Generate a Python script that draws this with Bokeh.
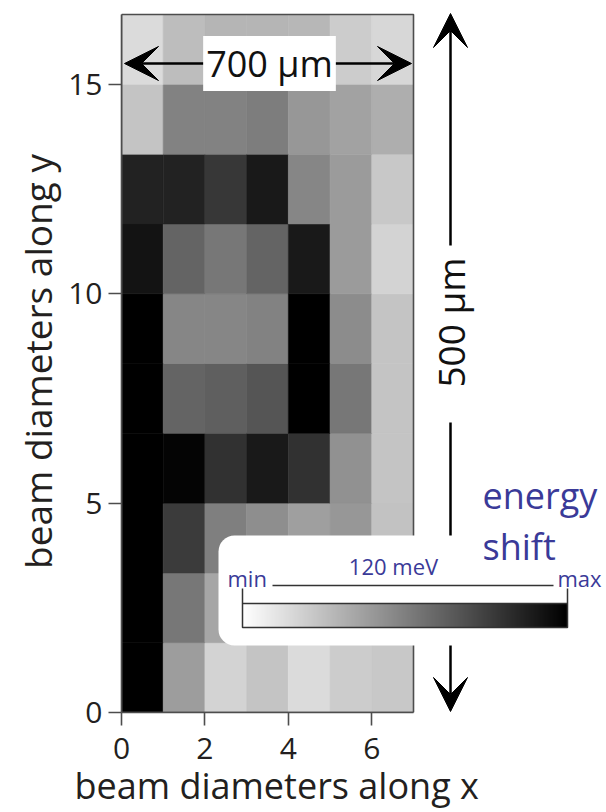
import math
from bokeh.plotting import figure
from bokeh.models import (ColumnDataSource, LinearColorMapper, ColorBar, FixedTicker,
                          Arrow, VeeHead, Label, BoxAnnotation, Range1d, Title)
from bokeh.palettes import Greys256
from bokeh.embed import file_html
from bokeh.resources import INLINE

# ---------------- data ----------------
x_edges = [0, 1, 2, 3, 4, 5, 6, 7]                      # beam diameters along x
y_edges = [0, 1.667, 3.333, 5.0, 6.667, 8.333, 10.0,
           11.667, 13.333, 15.0, 16.667]                 # beam diameters along y
# energy shift (meV), rows from y = 0 upward, columns x = 0..6
shift_rows = [
    [120,  46, 21,  28,  17, 24, 26],
    [120,  64, 42,  33,  31, 26, 26],
    [120,  92, 60,  53,  45, 49, 29],
    [120, 118, 97, 108,  97, 52, 28],
    [120,  73, 75,  80, 120, 64, 28],
    [120,  57, 57,  59, 120, 54, 28],
    [111,  73, 64,  73, 108, 47, 21],
    [104, 104, 94, 108,  57, 47, 26],
    [ 28,  59, 59,  61,  49, 44, 38],
    [ 17,  31, 35,  35,  34, 24, 19],
]
x_ticks = [0, 2, 4, 6]
y_ticks = [0, 5, 10, 15]
shift_min, shift_max = 0, 120

# ---------------- layout ----------------
W, H = 606, 812
FL, FT, FB = 121, 10, 100
frame_w, frame_h = W - FL, H - FT - FB
kx = (413 - 121) / (x_edges[-1] - x_edges[0])
ky = (712 - 14) / (y_edges[-1] - y_edges[0])
x_end = frame_w / kx
y_end = frame_h / ky

def dx(px):
    return (px - FL) / kx

def dy(py):
    return (H - FB - py) / ky

FONT = "Open Sans"
BLUE = "#3a3a98"
DARK = "#4d4d4d"
TXT = "#231f20"
UP = 7  # baseline correction (px)

p = figure(width=W, height=H, x_range=Range1d(0, x_end), y_range=Range1d(0, y_end),
           output_backend="svg", toolbar_location=None,
           min_border_left=FL, min_border_right=0, min_border_top=FT, min_border_bottom=FB,
           y_axis_label="beam diameters along y")
p.grid.visible = False
p.outline_line_color = None
p.background_fill_color = "white"
p.border_fill_color = "white"

mapper = LinearColorMapper(palette=list(reversed(Greys256)), low=shift_min, high=shift_max)

left, right, bottom, top, val = [], [], [], [], []
for r, row in enumerate(shift_rows):
    for c, v in enumerate(row):
        left.append(x_edges[c]); right.append(x_edges[c + 1])
        bottom.append(y_edges[r]); top.append(y_edges[r + 1])
        val.append(v)
src = ColumnDataSource(dict(left=left, right=right, bottom=bottom, top=top, shift=val))
p.quad(left="left", right="right", bottom="bottom", top="top", source=src,
       fill_color={"field": "shift", "transform": mapper},
       line_color={"field": "shift", "transform": mapper}, line_width=0.6)
# frame border around the scan
p.quad(left=x_edges[0], right=x_edges[-1], bottom=y_edges[0], top=y_edges[-1],
       fill_color=None, line_color=DARK, line_width=1.6)

# axes
for ax in (p.xaxis, p.yaxis):
    ax.major_label_text_font = FONT
    ax.major_label_text_font_size = "30px"
    ax.major_label_text_color = TXT
    ax.axis_label_text_font = FONT
    ax.axis_label_text_font_size = "37px"
    ax.axis_label_text_font_style = "normal"
    ax.axis_label_text_color = TXT
    ax.axis_line_color = DARK
    ax.axis_line_width = 1.6
    ax.major_tick_line_color = DARK
    ax.major_tick_line_width = 1.6
    ax.major_tick_in = 0
    ax.major_tick_out = 13
    ax.minor_tick_line_color = None
    ax.major_label_standoff = 6
    ax.axis_label_standoff = 2
p.xaxis.major_label_standoff = 12
p.xaxis.ticker = FixedTicker(ticks=x_ticks)
p.yaxis.ticker = FixedTicker(ticks=y_ticks)
p.xaxis.bounds = (x_edges[0], x_edges[-1])
p.yaxis.bounds = (y_edges[0], y_edges[-1])

# x-axis title, centred under the scan as in the original
p.add_layout(Title(text="beam diameters along x", align="left", offset=74 - FL,
                   standoff=-2, vertical_align="top", text_font=FONT,
                   text_font_size="36px", text_font_style="normal", text_color=TXT), "below")

def head():
    return VeeHead(size=34, fill_color="black", line_color="black", line_width=1)

# 700 um double arrow
p.add_layout(Arrow(start=head(), end=head(), x_start=dx(124), y_start=dy(63),
                   x_end=dx(411), y_end=dy(63), line_width=2.5, line_color="black"))
p.add_layout(Label(x=dx(269), y=dy(63), text="700 μm", text_align="center",
                   text_baseline="middle", text_font=FONT, text_font_size="36px",
                   text_color="#111111", background_fill_color="white", padding=3))
# 500 um vertical arrow
p.add_layout(Arrow(end=head(), x_start=dx(450), y_start=dy(245), x_end=dx(450), y_end=dy(13),
                   line_width=2.5, line_color="black"))
p.add_layout(Arrow(end=head(), x_start=dx(450), y_start=dy(422), x_end=dx(450), y_end=dy(711),
                   line_width=2.5, line_color="black"))
p.add_layout(Label(x=dx(450), y=dy(322), text="500 μm", angle=math.pi / 2, text_align="center",
                   text_baseline="middle", text_font=FONT, text_font_size="37px",
                   text_color="#111111"))

# legend box
p.add_layout(BoxAnnotation(left=dx(218), right=dx(720), bottom=dy(645), top=dy(535),
                           fill_color="white", fill_alpha=1, line_color=None, border_radius=16))

cb = ColorBar(color_mapper=mapper, orientation="horizontal",
              location=(242 - FL, H - FB - 627), width=325, height=24, padding=0,
              ticker=FixedTicker(ticks=[]), major_tick_line_color=None,
              major_label_text_font_size="0px", label_standoff=0,
              bar_line_color="#333333", bar_line_width=1.5,
              border_line_color=None, background_fill_alpha=0)
p.add_layout(cb)

for xs in (242, 567):
    p.add_layout(Arrow(end=None, x_start=dx(xs), y_start=dy(588), x_end=dx(xs), y_end=dy(603),
                       line_color="#333333", line_width=1.5))
p.add_layout(Arrow(end=None, x_start=dx(272), y_start=dy(585), x_end=dx(553), y_end=dy(585),
                   line_color="#333333", line_width=1.5))

p.add_layout(Label(x=dx(227), y=dy(584 - UP), text="min", text_font=FONT, text_font_size="22px",
                   text_color=BLUE, text_baseline="alphabetic"))
p.add_layout(Label(x=dx(557), y=dy(584 - UP), text="max", text_font=FONT, text_font_size="22px",
                   text_color=BLUE, text_baseline="alphabetic"))
p.add_layout(Label(x=dx(393), y=dy(572 - UP), text=f"{shift_max} meV", text_font=FONT,
                   text_font_size="22px", text_color=BLUE, text_align="center",
                   text_baseline="alphabetic"))
p.add_layout(Label(x=dx(482), y=dy(502 - UP), text="energy", text_font=FONT, text_font_size="36px",
                   text_color=BLUE, text_baseline="alphabetic"))
p.add_layout(Label(x=dx(482), y=dy(553 - UP), text="shift", text_font=FONT, text_font_size="36px",
                   text_color=BLUE, text_baseline="alphabetic"))

open("out.html", "w").write(file_html(p, INLINE))
